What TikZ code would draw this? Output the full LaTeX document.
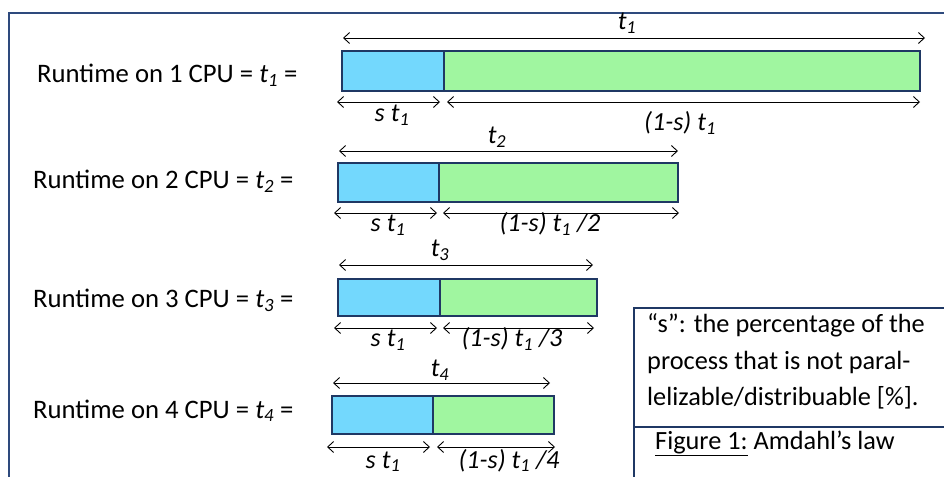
\documentclass[tikz,border=0pt]{standalone}
\usepackage{fontspec}
\setmainfont{Carlito}
\usetikzlibrary{arrows.meta}
\definecolor{serialblue}{HTML}{73D8FD}
\definecolor{parallelgreen}{HTML}{A0F6A0}
\definecolor{barnavy}{HTML}{1F3864}
\definecolor{framenavy}{HTML}{2E4A7D}
\newcommand\tvar[1]{\textit{t\textsubscript{#1}}}
\begin{document}
\begin{tikzpicture}[x=1bp,y=-1bp,
  seg/.style={draw=barnavy, line width=2.6bp, inner sep=0, outer sep=0, anchor=north west},
  dim/.style={<->, >={Straight Barb[length=6bp,width=11bp]}, line width=0.9bp},
  lbl/.style={font=\fontsize{26.2}{30}\selectfont\itshape, inner sep=0, anchor=base},
  rowlbl/.style={font=\fontsize{26.8}{30}\selectfont, inner sep=0, anchor=base west},
  boxtxt/.style={font=\fontsize{26.4}{30}\selectfont, inner sep=0, anchor=base west},
]
\useasboundingbox (0,0) rectangle (944,477);
\clip (0,0) rectangle (944,477);
\fill[white] (0,0) rectangle (944,477);
% outer frame
\node[draw=framenavy, line width=2.2bp, inner sep=0, minimum width=970bp, minimum height=500bp, anchor=north west] (frame) at (8,12) {};

% ---------- row 1
\node[seg, fill=parallelgreen, minimum width=476bp, minimum height=40bp] (p1) at (444,51) {};
\node[seg, fill=serialblue, minimum width=102bp, minimum height=40bp] (s1) at (342,51) {};
\node[rowlbl] (r1) at (37,83) {Runtime on 1 CPU = \tvar{1} =};
\coordinate (t1l) at (343,38); \coordinate (t1r) at (925,38);
\coordinate (s1l) at (337,102); \coordinate (s1r) at (440,102);
\coordinate (p1l) at (447,102); \coordinate (p1r) at (920,102);
\draw[dim] (t1l) -- (t1r);
\draw[dim] (s1l) -- (s1r);
\draw[dim] (p1l) -- (p1r);
\node[lbl] (lt1) at (627,30) {\tvar{1}};
\node[lbl] (ls1) at (392,122) {s \tvar{1}};
\node[lbl] (lp1) at (680,131) {(1-s) \tvar{1}};

% ---------- row 2
\node[seg, fill=parallelgreen, minimum width=239bp, minimum height=39bp] (p2) at (439,163) {};
\node[seg, fill=serialblue, minimum width=101bp, minimum height=39bp] (s2) at (338,163) {};
\node[rowlbl] (r2) at (33,189) {Runtime on 2 CPU = \tvar{2} =};
\coordinate (t2l) at (339,151); \coordinate (t2r) at (678,151);
\coordinate (s2l) at (334,213); \coordinate (s2r) at (437,213);
\coordinate (p2l) at (443,213); \coordinate (p2r) at (679,213);
\draw[dim] (t2l) -- (t2r);
\draw[dim] (s2l) -- (s2r);
\draw[dim] (p2l) -- (p2r);
\node[lbl] (lt2) at (497,144) {\tvar{2}};
\node[lbl] (ls2) at (388,232) {s \tvar{1}};
\node[lbl] (lp2) at (550,232) {(1-s) \tvar{1} /2};

% ---------- row 3
\node[seg, fill=parallelgreen, minimum width=157bp, minimum height=37bp] (p3) at (440,279) {};
\node[seg, fill=serialblue, minimum width=102bp, minimum height=37bp] (s3) at (338,279) {};
\node[rowlbl] (r3) at (33,308) {Runtime on 3 CPU = \tvar{3} =};
\coordinate (t3l) at (339,265); \coordinate (t3r) at (593,265);
\coordinate (s3l) at (334,328); \coordinate (s3r) at (437,328);
\coordinate (p3l) at (443,328); \coordinate (p3r) at (594,328);
\draw[dim] (t3l) -- (t3r);
\draw[dim] (s3l) -- (s3r);
\draw[dim] (p3l) -- (p3r);
\node[lbl] (lt3) at (440,257) {\tvar{3}};
\node[lbl] (ls3) at (388,347) {s \tvar{1}};
\node[lbl] (lp3) at (512,347) {(1-s) \tvar{1} /3};

% ---------- row 4
\node[seg, fill=parallelgreen, minimum width=121bp, minimum height=38bp] (p4) at (433,396) {};
\node[seg, fill=serialblue, minimum width=101bp, minimum height=38bp] (s4) at (332,396) {};
\node[rowlbl] (r4) at (33,418) {Runtime on 4 CPU = \tvar{4} =};
\coordinate (t4l) at (333,383); \coordinate (t4r) at (550,383);
\coordinate (s4l) at (327,447); \coordinate (s4r) at (430,447);
\coordinate (p4l) at (437,447); \coordinate (p4r) at (555,447);
\draw[dim] (t4l) -- (t4r);
\draw[dim] (s4l) -- (s4r);
\draw[dim] (p4l) -- (p4r);
\node[lbl] (lt4) at (440,377) {\tvar{4}};
\node[lbl] (ls4) at (383,468) {s \tvar{1}};
\node[lbl] (lp4) at (509,468) {(1-s) \tvar{1} /4};

% ---------- note box
\node[draw=barnavy, line width=2.2bp, fill=white, inner sep=0, minimum width=340bp, minimum height=119bp, anchor=north west] (note) at (633,307) {};
\node[draw=barnavy, line width=2.2bp, fill=white, inner sep=0, minimum width=340bp, minimum height=80bp, anchor=north west] (caption) at (633,426) {};
\node[boxtxt] (n1) at (647,333) {“s”: the percentage of the};
\node[boxtxt] (n2) at (647,370) {process that is not paral-};
\node[boxtxt] (n3) at (647,405) {lelizable/distribuable [\%].};
\node[boxtxt] (cap) at (655,449) {\underline{Figure 1:} Amdahl’s law};
\end{tikzpicture}
\end{document}
